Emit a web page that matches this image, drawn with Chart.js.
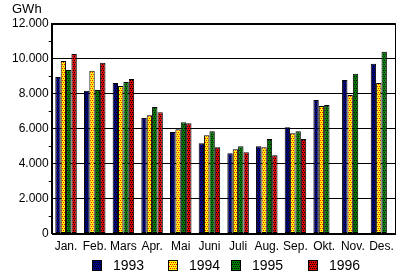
<!DOCTYPE html>
<html>
<head>
<meta charset="utf-8">
<script src="https://cdn.jsdelivr.net/npm/chart.js@4/dist/chart.umd.min.js"></script>
<style>
  html, body { margin: 0; padding: 0; background: #fff; }
  #wrap { width: 400px; height: 277px; }
</style>
</head>
<body>
<div id="wrap"><canvas id="chart"></canvas></div>
<script>
let maaneder = ['Jan.', 'Feb.', 'Mars', 'Apr.', 'Mai', 'Juni', 'Juli', 'Aug.', 'Sep.', 'Okt.', 'Nov.', 'Des.'];
let aar = ['1993', '1994', '1995', '1996'];

let v1993 = [8950, 8170, 8610, 6600, 5800, 5170, 4590, 4990, 6080, 7630, 8780, 9700];
let v1994 = [9870, 9300, 8440, 6770, 5970, 5620, 4820, 4940, 5740, 7290, 7920, 8610];
let v1995 = [9350, 8210, 8670, 7230, 6370, 5850, 4990, 5400, 5850, 7350, 9130, 10390];
let v1996 = [10270, 9760, 8840, 6940, 6310, 4940, 4650, 4480, 5400, null, null, null];

let yTicks = [0, 2000, 4000, 6000, 8000, 10000, 12000];

// rutemønster som i originalen: grunnfarge med prikker
function monster(grunn, prikk) {
    let c = document.createElement('canvas');
    c.width = 4; c.height = 4;
    let g = c.getContext('2d');
    g.fillStyle = grunn;
    g.fillRect(0, 0, 4, 4);
    g.fillStyle = prikk;
    [[0, 0], [2, 0], [1, 2], [3, 2]].forEach(p => g.fillRect(p[0], p[1], 1, 1));
    return g.createPattern(c, 'repeat');
}

let fyll = [
    monster('#000080', '#000000'),
    monster('#ffff00', '#ff0000'),
    monster('#008000', '#000000'),
    monster('#e00000', '#000000'),
];

let verdier = [v1993, v1994, v1995, v1996];

let datos = {
    labels: maaneder,
    datasets: aar.map((a, i) => ({
        label: a,
        data: verdier[i],
        backgroundColor: fyll[i],
        borderColor: '#000',
        borderWidth: 1,
        borderSkipped: false,
        categoryPercentage: 0.75,
        barPercentage: 1.0,
    }))
};

function tusen(v) {
    return String(v).replace(/\B(?=(\d{3})+(?!\d))/g, '.');
}

// ramme rundt plottet og egen forklaring nederst
let ramme = {
    id: 'ramme',
    afterDraw(chart) {
        let c = chart.ctx, a = chart.chartArea;
        c.save();
        c.strokeStyle = '#000';
        c.lineWidth = 1;
        c.strokeRect(Math.round(a.left) + 0.5, Math.round(a.top) + 0.5,
            Math.round(a.right - a.left) - 1, Math.round(a.bottom - a.top));
        // forklaring
        let xs = [92, 168, 231, 308];
        let y = 260;
        c.font = '14px "Liberation Sans"';
        c.textBaseline = 'middle';
        chart.data.datasets.forEach((d, i) => {
            c.fillStyle = d.backgroundColor;
            c.fillRect(xs[i], y, 10, 11);
            c.strokeRect(xs[i] + 0.5, y + 0.5, 9, 10);
            c.fillStyle = '#000';
            c.fillText(d.label, xs[i] + 21, y + 6);
        });
        c.restore();
    }
};

let opciones = {
    responsive: true,
    maintainAspectRatio: false,
    animation: false,
    layout: {
        padding: { left: 12, right: 4, top: 0, bottom: 17 }
    },
    scales: {
        x: {
            grid: { display: false, drawTicks: false },
            border: { color: '#000' },
            ticks: {
                color: '#000',
                font: { family: 'Liberation Sans', size: 12 },
                padding: 6,
                maxRotation: 0,
                autoSkip: false
            }
        },
        y: {
            min: 0,
            max: 12000,
            border: { color: '#000' },
            grid: {
                color: c => (c.tick && c.tick.value % 2000 === 0) ? '#000' : 'rgba(0,0,0,0)',
                tickColor: c => (c.tick && c.tick.value % 2000 !== 0) ? '#000' : 'rgba(0,0,0,0)',
                tickLength: 3
            },
            ticks: {
                stepSize: 1000,
                color: '#000',
                padding: 0,
                font: { family: 'Liberation Sans', size: 12 },
                callback: v => yTicks.includes(v) ? tusen(v) : ''
            }
        }
    },
    plugins: {
        legend: { display: false },
        tooltip: { enabled: false },
        title: {
            display: true,
            text: 'GWh',
            align: 'start',
            color: '#000',
            font: { family: 'Liberation Sans', size: 13, weight: 'normal' },
            padding: { top: 2, bottom: 6 }
        }
    }
};

let ctx = document.getElementById('chart');

let miGrafica = new Chart(ctx, {
    type: 'bar',
    data: datos,
    options: opciones,
    plugins: [ramme]
});
</script>
</body>
</html>
